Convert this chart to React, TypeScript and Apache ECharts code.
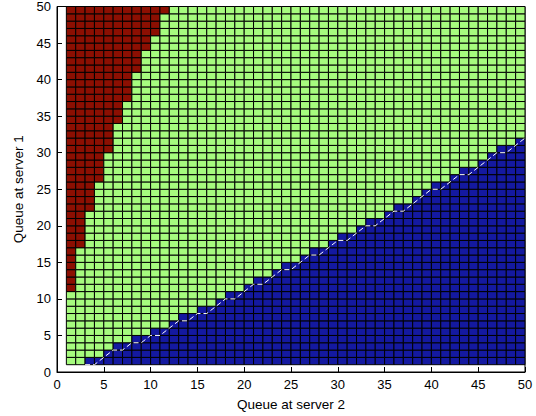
import React, { useEffect, useRef } from "react";
import * as echarts from "echarts";

// Tick labels on both axes
const xTicks = [0, 5, 10, 15, 20, 25, 30, 35, 40, 45, 50];
const yTicks = [0, 5, 10, 15, 20, 25, 30, 35, 40, 45, 50];

// Grid vertices 1..50 on each axis (cells span [i, i+1])
const gridSize = 50;

// Highest blue row for each column 1..50 (the white dashed switching curve)
const blueTop = [
  0, 0, 1, 1, 2, 3, 3, 4, 4, 5,
  5, 6, 7, 7, 8, 8, 9, 10, 10, 11,
  12, 12, 13, 14, 14, 15, 16, 16, 17, 18,
  18, 19, 20, 20, 21, 22, 22, 23, 24, 25,
  25, 26, 27, 27, 28, 29, 30, 30, 31, 32,
];

// Rightmost red column for each row 1..49
const redRight = [
  0, 0, 0, 0, 0, 0, 0, 0, 0, 0,
  1, 1, 1, 1, 1, 1, 2, 2, 2, 2,
  2, 3, 3, 3, 3, 4, 4, 4, 4, 5,
  5, 5, 5, 6, 6, 6, 7, 7, 7, 7,
  8, 8, 8, 9, 9, 10, 10, 10, 11,
];

const cellColors = ["#8c0f02", "#a6fb7e", "#1419a0"];

function buildCells(): number[][] {
  const cells: number[][] = [];
  for (let j = 1; j < gridSize; j++) {
    for (let i = 1; i < gridSize; i++) {
      let c = 1;
      if (j <= blueTop[i - 1]) c = 2;
      else if (i <= redRight[j - 1]) c = 0;
      cells.push([i, j, c]);
    }
  }
  return cells;
}

function buildCurve(): number[][] {
  const pts: number[][] = [];
  blueTop.forEach((t, k) => {
    if (t > 0) pts.push([k + 1, t]);
  });
  return pts;
}

export default function App() {
  const ref = useRef<HTMLDivElement>(null);

  useEffect(() => {
    if (!ref.current) return;
    const chart = echarts.init(ref.current, undefined, { renderer: "svg" });
    const font = "Liberation Sans";
    const axisCommon = {
      type: "value" as const,
      min: 0,
      max: 50,
      interval: 5,
      axisLine: { show: true, onZero: false, lineStyle: { color: "#000", width: 1 } },
      axisTick: { show: true, inside: true, length: 5, lineStyle: { color: "#000" } },
      splitLine: { show: false },
      nameLocation: "middle" as const,
      nameTextStyle: { color: "#000", fontFamily: font, fontSize: 13.5 },
    };
    chart.setOption({
      animation: false,
      backgroundColor: "#fff",
      grid: {
        left: 57,
        right: 11,
        top: 5,
        bottom: 42,
        show: true,
        borderColor: "#000",
        borderWidth: 1,
        backgroundColor: "transparent",
      },
      xAxis: {
        ...axisCommon,
        name: "Queue at server 2",
        nameGap: 25,
        axisLabel: {
          color: "#000",
          fontFamily: font,
          fontSize: 13,
          margin: 6,
          formatter: (v: number) => (xTicks.includes(v) ? String(v) : ""),
        },
      },
      yAxis: {
        ...axisCommon,
        name: "Queue at server 1",
        nameGap: 32,
        nameRotate: 90,
        axisLabel: {
          color: "#000",
          fontFamily: font,
          fontSize: 13,
          margin: 6,
          formatter: (v: number) => (yTicks.includes(v) ? String(v) : ""),
        },
      },
      series: [
        {
          type: "custom",
          data: buildCells(),
          encode: { x: 0, y: 1 },
          z: 2,
          renderItem: (_params: any, api: any) => {
            const i = api.value(0);
            const j = api.value(1);
            const c = api.value(2);
            const p0 = api.coord([i, j + 1]);
            const p1 = api.coord([i + 1, j]);
            return {
              type: "rect",
              shape: {
                x: p0[0],
                y: p0[1],
                width: p1[0] - p0[0],
                height: p1[1] - p0[1],
              },
              style: { fill: cellColors[c], stroke: "#000", lineWidth: 1 },
            };
          },
        },
        {
          type: "line",
          data: buildCurve(),
          z: 3,
          symbol: "none",
          lineStyle: { color: "#ffffff", width: 1, type: [5, 3] },
        },
      ],
    });
    return () => chart.dispose();
  }, []);

  return (
    <div
      ref={ref}
      style={{ position: "fixed", left: 0, top: 0, width: 536, height: 416 }}
    />
  );
}
